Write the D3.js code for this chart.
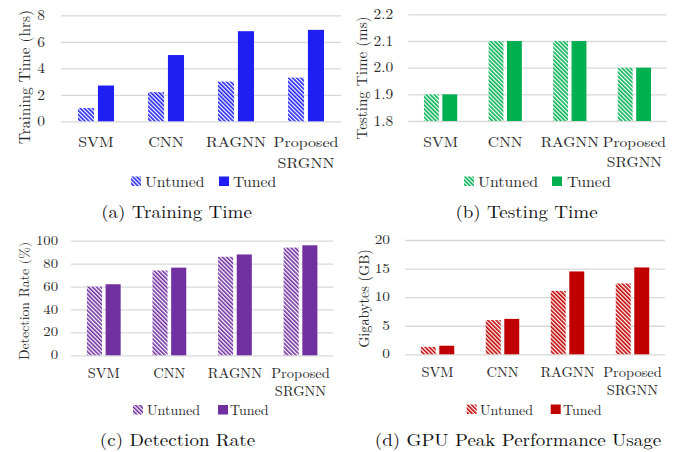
<!DOCTYPE html>
<html>
<head>
<meta charset="utf-8">
<script src="https://cdn.jsdelivr.net/npm/d3@7"></script>
</head>
<body style="margin:0; background:#fff">
<div id="okvir"></div>
<script>
// podaci
const categories = ["SVM", "CNN", "RAGNN", "Proposed SRGNN"];
const series = ["Untuned", "Tuned"];

const trainUntuned = [1.0, 2.2, 3.0, 3.3];
const trainTuned = [2.7, 5.0, 6.8, 6.9];
const trainTicks = [0, 2, 4, 6, 8];

const testUntuned = [1.9, 2.1, 2.1, 2.0];
const testTuned = [1.9, 2.1, 2.1, 2.0];
const testTicks = [1.8, 1.9, 2.0, 2.1, 2.2];

const detUntuned = [60, 74, 86, 94];
const detTuned = [62, 76.5, 88, 96];
const detTicks = [0, 20, 40, 60, 80, 100];

const gpuUntuned = [1.3, 6.0, 11.1, 12.4];
const gpuTuned = [1.5, 6.2, 14.5, 15.2];
const gpuTicks = [0, 5, 10, 15, 20];

const FONT = '"Latin Modern Roman", "CMU Serif", "Liberation Serif", serif';

// panel layout (slika je malo rastegnuta vodoravno, zato sx)
const paneli = [
  { id: "a", untuned: trainUntuned, tuned: trainTuned, ticks: trainTicks, fmt: d3.format("d"),
    boja: "#1f1ff2", naslov: "Training Time (hrs)", caption: "(a) Training Time",
    left: 61, right: 341, top: 15.3, bottom: 121.3, tickX: 45, tickFs: 14.8, tickSx: 1.05,
    titleX: 25, titleY: 77, titleFs: 15.3,
    catY: 146.6, catLine: 21.3, catSx: 1.16,
    legY: 186.5, legFs: 14.6, legSx: 1.08, sw1: 131, t1: 145, sw2: 219, t2: 233,
    capX: 176.5, capY: 218 },
  { id: "b", untuned: testUntuned, tuned: testTuned, ticks: testTicks, fmt: d3.format(".1f"),
    boja: "#00b050", naslov: "Testing Time (ms)", caption: "(b) Testing Time",
    left: 408.3, right: 666.7, top: 14.3, bottom: 121, tickX: 393.3, tickFs: 15, tickSx: 1.03,
    titleX: 361.7, titleY: 78, titleFs: 15.1,
    catY: 146.6, catLine: 20.7, catSx: 1.13,
    legY: 186.5, legFs: 14.6, legSx: 1.09, sw1: 464, t1: 478, sw2: 552, t2: 567,
    capX: 526.5, capY: 218 },
  { id: "c", untuned: detUntuned, tuned: detTuned, ticks: detTicks, fmt: d3.format("d"),
    boja: "#7030a0", naslov: "Detection Rate (%)", caption: "(c) Detection Rate",
    left: 71, right: 333.3, top: 240.7, bottom: 355.3, tickX: 58, tickFs: 12.8, tickSx: 1.15,
    titleX: 24, titleY: 301, titleFs: 13.8,
    catY: 377.5, catLine: 18.5, catSx: 1.05,
    legY: 415, legFs: 13.8, legSx: 1.02, sw1: 133, t1: 147, sw2: 218, t2: 230,
    capX: 177.5, capY: 446 },
  { id: "d", untuned: gpuUntuned, tuned: gpuTuned, ticks: gpuTicks, fmt: d3.format("d"),
    boja: "#c00000", naslov: "Gigabytes (GB)", caption: "(d) GPU Peak Performance Usage",
    left: 405, right: 665, top: 240, bottom: 354.3, tickX: 390, tickFs: 13, tickSx: 1.18,
    titleX: 364, titleY: 298.5, titleFs: 14.2,
    catY: 377, catLine: 17.8, catSx: 1.05,
    legY: 414.5, legFs: 13.8, legSx: 1.02, sw1: 466.7, t1: 480, sw2: 550.7, t2: 563,
    capX: 518, capY: 446 }
];

const svg = d3.select("#okvir").append("svg")
  .attr("width", 680)
  .attr("height", 452);

const defs = svg.append("defs");

// tekst rastegnut vodoravno za sx
function tekst(roditelj, x, y, fs, sx, sadrzaj) {
  return roditelj.append("text")
    .attr("transform", `translate(${x},${y}) scale(${sx},1)`)
    .attr("fill", "#2b2b2b")
    .style("font-family", FONT)
    .style("font-size", fs + "px")
    .text(sadrzaj);
}

paneli.forEach(p => {
  // uzorak za untuned
  const pat = defs.append("pattern")
    .attr("id", "uzorak-" + p.id)
    .attr("patternUnits", "userSpaceOnUse")
    .attr("width", 2.9)
    .attr("height", 4)
    .attr("patternTransform", "rotate(-45)");
  pat.append("rect").attr("width", 2.9).attr("height", 4).attr("fill", "#fff");
  pat.append("rect").attr("width", 1.6).attr("height", 4).attr("fill", p.boja);

  const g = svg.append("g");

  const yMin = p.ticks[0], yMax = p.ticks[p.ticks.length - 1];
  const y = d3.scaleLinear().domain([yMin, yMax]).range([p.bottom, p.top]);
  const x0 = d3.scaleBand().domain(categories).range([p.left, p.right]);
  const bw = x0.bandwidth();
  const x1 = d3.scaleBand().domain(series)
    .range([bw * 0.2425, bw * 0.7575])
    .paddingInner(0.193);

  // gridlines
  const yOs = d3.axisLeft(y).tickValues(p.ticks).tickFormat("")
    .tickSize(-(p.right - p.left));
  const os = g.append("g")
    .attr("transform", `translate(${p.left},0)`)
    .call(yOs);
  os.select(".domain").remove();
  os.selectAll(".tick line").attr("stroke", "#d9d9d9").attr("stroke-width", 1.3);
  os.selectAll(".tick text").remove();

  // tick labels
  p.ticks.forEach(t => {
    tekst(g, p.tickX, y(t), p.tickFs, p.tickSx, p.fmt(t))
      .attr("text-anchor", "end")
      .attr("dy", "0.32em");
  });

  // stupci
  const podaci = categories.map((c, i) => ({ cat: c, vrijednosti: [
    { s: "Untuned", v: p.untuned[i] }, { s: "Tuned", v: p.tuned[i] }] }));

  g.selectAll("g.grupa")
    .data(podaci)
    .join("g")
      .attr("class", "grupa")
      .attr("transform", d => `translate(${x0(d.cat)},0)`)
    .selectAll("rect")
    .data(d => d.vrijednosti)
    .join("rect")
      .attr("x", d => x1(d.s))
      .attr("width", x1.bandwidth())
      .attr("y", d => y(d.v))
      .attr("height", d => y(yMin) - y(d.v))
      .attr("fill", d => d.s === "Untuned" ? `url(#uzorak-${p.id})` : p.boja);

  // category labels
  categories.forEach(c => {
    const t = tekst(g, x0(c) + bw / 2, p.catY, 13.8, p.catSx, null)
      .attr("text-anchor", "middle");
    t.selectAll("tspan")
      .data(c.split(" "))
      .join("tspan")
        .attr("x", 0)
        .attr("dy", (d, j) => j === 0 ? 0 : p.catLine)
        .text(d => d);
  });

  // y title
  g.append("text")
    .attr("transform", `translate(${p.titleX},${p.titleY}) rotate(-90)`)
    .attr("text-anchor", "middle")
    .attr("dy", "0.35em")
    .attr("fill", "#2b2b2b")
    .style("font-family", FONT)
    .style("font-size", p.titleFs + "px")
    .text(p.naslov);

  // legenda
  const leg = [
    { s: "Untuned", sw: p.sw1, tx: p.t1, fill: `url(#uzorak-${p.id})` },
    { s: "Tuned", sw: p.sw2, tx: p.t2, fill: p.boja }
  ];
  leg.forEach(l => {
    g.append("rect")
      .attr("x", l.sw).attr("y", p.legY - 10)
      .attr("width", 10).attr("height", 9.5)
      .attr("fill", l.fill);
    tekst(g, l.tx, p.legY, p.legFs, p.legSx, l.s);
  });

  // caption
  tekst(g, p.capX, p.capY, 17, 1.12, p.caption)
    .attr("text-anchor", "middle")
    .attr("fill", "#111");
});
</script>
</body>
</html>
